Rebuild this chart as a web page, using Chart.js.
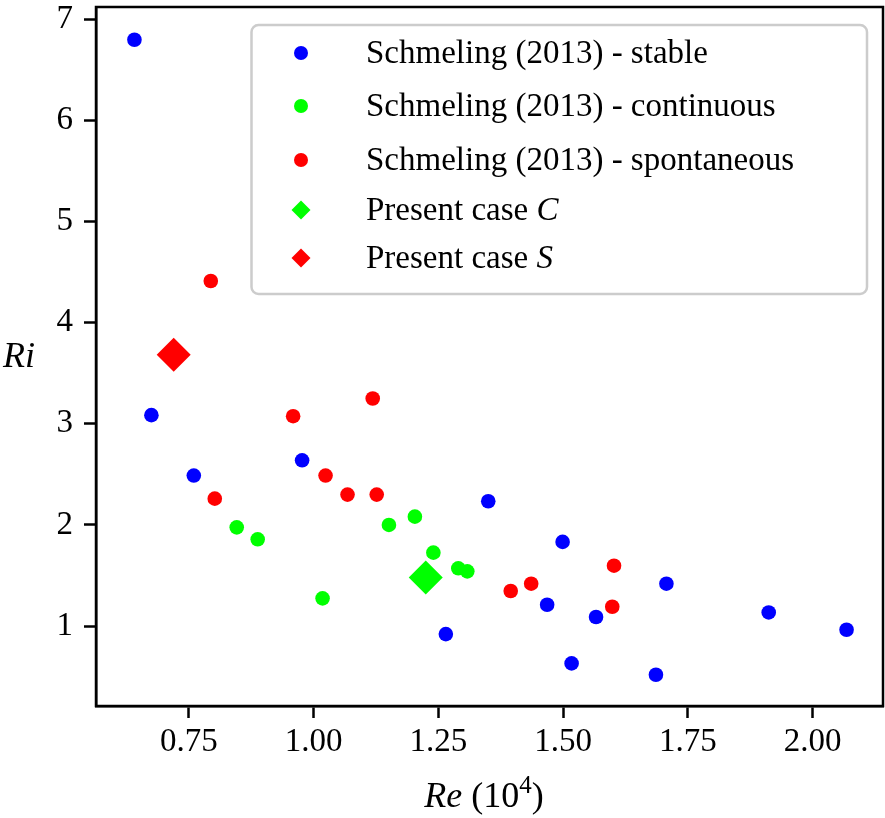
<!DOCTYPE html>
<html>
<head>
<meta charset="utf-8">
<script src="https://cdn.jsdelivr.net/npm/chart.js@4.4.1/dist/chart.umd.min.js"></script>
<style>
html,body{margin:0;padding:0;background:#ffffff;overflow:hidden;}
#wrap{width:885px;height:818px;position:relative;}
</style>
</head>
<body>
<div id="wrap"><canvas id="c"></canvas></div>
<script>
// ---- data ----
const stableRe = [0.641, 0.675, 0.760, 0.977, 1.265, 1.350, 1.468, 1.499, 1.517, 1.566, 1.686, 1.707, 1.912, 2.068];
const stableRi = [6.796, 3.085, 2.488, 2.639, 0.921, 2.234, 1.211, 1.832, 0.631, 1.090, 0.519, 1.419, 1.135, 0.964];

const continuousRe = [0.846, 0.888, 1.018, 1.151, 1.203, 1.240, 1.290, 1.308];
const continuousRi = [1.976, 1.858, 1.274, 2.000, 2.082, 1.726, 1.571, 1.541];

const spontaneousRe = [0.794, 0.802, 0.959, 1.024, 1.068, 1.1185, 1.1265, 1.395, 1.436, 1.5985, 1.602];
const spontaneousRi = [4.411, 2.260, 3.075, 2.488, 2.300, 3.250, 2.300, 1.347, 1.419, 1.191, 1.597];

const caseCRe = [1.2247];
const caseCRi = [1.481];
const caseSRe = [0.7197];
const caseSRi = [3.682];

const seriesLabels = ['Schmeling (2013) - stable', 'Schmeling (2013) - continuous', 'Schmeling (2013) - spontaneous', 'Present case ', 'Present case '];
const seriesSymbols = ['', '', '', 'C', 'S'];
const seriesColors = ['#0000ff', '#00ff00', '#ff0000', '#00ff00', '#ff0000'];

const xTickValues = [0.75, 1.00, 1.25, 1.50, 1.75, 2.00];
const xTickLabels = ['0.75', '1.00', '1.25', '1.50', '1.75', '2.00'];
const yTickValues = [1, 2, 3, 4, 5, 6, 7];
const yTickLabels = ['1', '2', '3', '4', '5', '6', '7'];

const xTitleParts = [['Re', 'italic'], [' (10', 'normal'], ['4', 'sup'], [')', 'normal']];
const yTitle = 'Ri';

// ---- build ----
function pts(xs, ys) { return xs.map((v, i) => ({ x: v, y: ys[i] })); }

const SERIF = '"Liberation Serif", "Times New Roman", serif';

const datasets = [
  { label: seriesLabels[0] + seriesSymbols[0], data: pts(stableRe, stableRi), pointStyle: 'circle', pointRadius: 7.3, order: 5 },
  { label: seriesLabels[1] + seriesSymbols[1], data: pts(continuousRe, continuousRi), pointStyle: 'circle', pointRadius: 7.3, order: 4 },
  { label: seriesLabels[2] + seriesSymbols[2], data: pts(spontaneousRe, spontaneousRi), pointStyle: 'circle', pointRadius: 7.3, order: 3 },
  { label: seriesLabels[3] + seriesSymbols[3], data: pts(caseCRe, caseCRi), pointStyle: 'rectRot', pointRadius: 17, order: 2 },
  { label: seriesLabels[4] + seriesSymbols[4], data: pts(caseSRe, caseSRi), pointStyle: 'rectRot', pointRadius: 17, order: 1 }
].map((d, i) => Object.assign(d, {
  backgroundColor: seriesColors[i],
  borderColor: seriesColors[i],
  borderWidth: 0,
  pointHoverRadius: d.pointRadius,
  showLine: false
}));

const framePlugin = {
  id: 'frame',
  afterDraw(chart) {
    const { ctx, chartArea: a } = chart;
    ctx.save();
    ctx.strokeStyle = '#000';
    ctx.lineWidth = 2.5;
    ctx.strokeRect(a.left, a.top, a.right - a.left, a.bottom - a.top);
    ctx.restore();
  }
};

const titlePlugin = {
  id: 'titles',
  afterDraw(chart) {
    const ctx = chart.ctx;
    ctx.save();
    ctx.fillStyle = '#000';
    ctx.textBaseline = 'alphabetic';
    ctx.textAlign = 'left';
    ctx.font = 'italic 36px ' + SERIF;
    ctx.fillText(yTitle, 3, 367);
    const fontFor = (kind) => kind === 'italic' ? 'italic 36px ' + SERIF : (kind === 'sup' ? '25px ' + SERIF : '36px ' + SERIF);
    let total = 0;
    xTitleParts.forEach(([t, k]) => { ctx.font = fontFor(k); total += ctx.measureText(t).width; });
    let x = 484 - total / 2;
    const base = 807;
    xTitleParts.forEach(([t, k]) => {
      ctx.font = fontFor(k);
      ctx.fillText(t, x, k === 'sup' ? base - 14 : base);
      x += ctx.measureText(t).width;
    });
    ctx.restore();
  }
};

function roundRect(ctx, x, y, w, h, r) {
  ctx.beginPath();
  ctx.moveTo(x + r, y);
  ctx.lineTo(x + w - r, y);
  ctx.arcTo(x + w, y, x + w, y + r, r);
  ctx.lineTo(x + w, y + h - r);
  ctx.arcTo(x + w, y + h, x + w - r, y + h, r);
  ctx.lineTo(x + r, y + h);
  ctx.arcTo(x, y + h, x, y + h - r, r);
  ctx.lineTo(x, y + r);
  ctx.arcTo(x, y, x + r, y, r);
  ctx.closePath();
}

const legendPlugin = {
  id: 'customLegend',
  afterDraw(chart) {
    const ctx = chart.ctx;
    const rowsY = [53, 106, 160, 210, 258];
    ctx.save();
    roundRect(ctx, 251.5, 25, 615.5, 269, 7);
    ctx.fillStyle = 'rgba(255,255,255,0.8)';
    ctx.fill();
    ctx.lineWidth = 2.5;
    ctx.strokeStyle = '#cccccc';
    ctx.stroke();
    chart.data.datasets.forEach((ds, i) => {
      const y = rowsY[i];
      const mx = 301;
      ctx.fillStyle = ds.backgroundColor;
      ctx.beginPath();
      if (ds.pointStyle === 'rectRot') {
        const r = 9.5;
        ctx.moveTo(mx - r, y); ctx.lineTo(mx, y - r); ctx.lineTo(mx + r, y); ctx.lineTo(mx, y + r); ctx.closePath();
      } else {
        ctx.arc(mx, y, 7, 0, Math.PI * 2);
      }
      ctx.fill();
      ctx.fillStyle = '#000';
      ctx.textBaseline = 'alphabetic';
      ctx.textAlign = 'left';
      ctx.font = '33px ' + SERIF;
      const main = seriesLabels[i];
      ctx.fillText(main, 366, y + 10);
      if (seriesSymbols[i]) {
        const w = ctx.measureText(main).width;
        ctx.font = 'italic 33px ' + SERIF;
        ctx.fillText(seriesSymbols[i], 366 + w, y + 10);
      }
    });
    ctx.restore();
  }
};

function zeroPad(scale) {
  scale.paddingTop = 0; scale.paddingBottom = 0; scale.paddingLeft = 0; scale.paddingRight = 0;
}

new Chart(document.getElementById('c'), {
  type: 'scatter',
  data: { datasets },
  options: {
    responsive: true,
    maintainAspectRatio: false,
    animation: false,
    devicePixelRatio: 1,
    layout: { autoPadding: false, padding: { top: 7, right: 2, left: 0, bottom: 0 } },
    plugins: { legend: { display: false }, tooltip: { enabled: false } },
    events: [],
    scales: {
      x: {
        type: 'linear',
        min: 0.564,
        max: 2.141,
        afterFit(scale) { scale.height = 112; zeroPad(scale); },
        afterBuildTicks(scale) { scale.ticks = xTickValues.map(v => ({ value: v })); },
        grid: { display: true, drawOnChartArea: false, drawTicks: true, tickLength: 12, tickWidth: 2.5, tickColor: '#000' },
        border: { display: true, color: '#000', width: 2.5 },
        ticks: {
          padding: 5,
          color: '#000',
          font: { family: SERIF, size: 33 },
          maxRotation: 0,
          autoSkip: false,
          callback: (v, i) => xTickLabels[i]
        }
      },
      y: {
        type: 'linear',
        min: 0.21,
        max: 7.12,
        afterFit(scale) { scale.width = 96; zeroPad(scale); },
        afterBuildTicks(scale) { scale.ticks = yTickValues.map(v => ({ value: v })); },
        grid: { display: true, drawOnChartArea: false, drawTicks: true, tickLength: 12, tickWidth: 2.5, tickColor: '#000' },
        border: { display: true, color: '#000', width: 2.5 },
        ticks: {
          padding: 11,
          color: '#000',
          font: { family: SERIF, size: 33 },
          autoSkip: false,
          callback: (v, i) => yTickLabels[i]
        }
      }
    }
  },
  plugins: [framePlugin, titlePlugin, legendPlugin]
});
</script>
</body>
</html>
